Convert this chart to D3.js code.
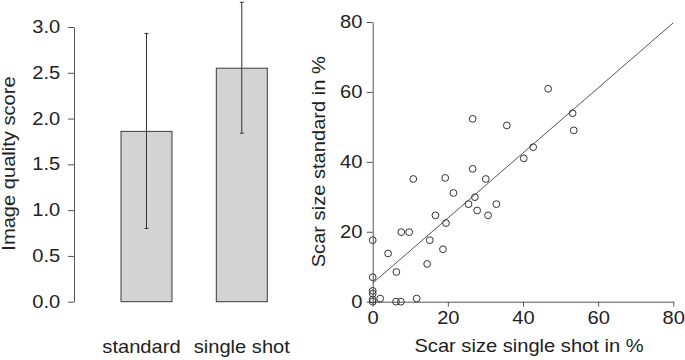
<!DOCTYPE html>
<html>
<head>
<meta charset="utf-8">
<script src="https://cdn.jsdelivr.net/npm/d3@7"></script>
<style>
  body { margin: 0; background: #fff; }
  svg text { font-family: "Liberation Sans", Arial, sans-serif; fill: #222; }
  .axis path, .axis line { stroke: #555; }
</style>
</head>
<body>
<div id="chart"></div>
<script>
// bar chart data
const groups = ["standard", "single shot"];
const meanScore = [1.86, 2.55];
const errLow = [0.80, 1.84];
const errHigh = [2.93, 3.27];
const scoreTicks = [0, 0.5, 1.0, 1.5, 2.0, 2.5, 3.0];

// scatter data: scar size single shot (x) vs standard (y)
const scarSingle = [10.8, 19.3, 26.6, 26.6, 30.1, 35.7, 40.2, 42.7, 46.7, 53.2, 53.5,
    21.5, 27.2, 25.5, 32.9, 27.8, 30.7, 16.7, 19.5, 7.6, 9.7, 0, 15.2, 18.7, 4.1,
    14.5, 6.3, 0, 0, 0, 0, 0, 2.0, 6.2, 7.5, 11.7];
const scarStandard = [35.1, 35.4, 52.3, 38.0, 35.1, 50.4, 41.0, 44.2, 60.9, 53.9, 49.0,
    31.1, 29.9, 27.9, 27.9, 26.1, 24.7, 24.7, 22.5, 19.9, 19.9, 17.6, 17.6, 15.0, 13.8,
    10.8, 8.5, 7.0, 3.1, 2.3, 0.6, 0, 0.9, 0, 0, 0.9];
const scarTicks = [0, 20, 40, 60, 80];
// fitted line
const fitIntercept = 5.3;
const fitSlope = 0.931;

const W = 685, H = 360;
const fs = 17.5, stretch = "scale(1.15,1)";

const svg = d3.select("#chart").append("svg")
    .attr("width", W)
    .attr("height", H);

// ---------- left: bar chart ----------
const yBar = d3.scaleLinear().domain([0, 3]).range([301.7, 27]);
const xBar = d3.scaleBand().domain(groups).range([121, 267.3])
    .paddingInner(0.465).paddingOuter(0);

const barData = groups.map((g, i) => ({ g: g, v: meanScore[i], lo: errLow[i], hi: errHigh[i] }));

svg.selectAll("rect.bar")
    .data(barData)
    .enter()
    .append("rect")
    .attr("class", "bar")
    .attr("x", d => xBar(d.g))
    .attr("y", d => yBar(d.v))
    .attr("width", xBar.bandwidth())
    .attr("height", d => yBar(0) - yBar(d.v))
    .attr("fill", "#d3d3d3")
    .attr("stroke", "#3c3c3c")
    .attr("stroke-width", 1);

// error bars
const err = svg.selectAll("g.err")
    .data(barData)
    .enter()
    .append("g")
    .attr("class", "err")
    .attr("stroke", "#333")
    .attr("stroke-width", 1);

err.append("line")
    .attr("x1", d => xBar(d.g) + xBar.bandwidth() / 2)
    .attr("x2", d => xBar(d.g) + xBar.bandwidth() / 2)
    .attr("y1", d => yBar(d.lo))
    .attr("y2", d => yBar(d.hi));

err.append("line")
    .attr("x1", d => xBar(d.g) + xBar.bandwidth() / 2 - 2)
    .attr("x2", d => xBar(d.g) + xBar.bandwidth() / 2 + 2)
    .attr("y1", d => yBar(d.hi))
    .attr("y2", d => yBar(d.hi));

err.append("line")
    .attr("x1", d => xBar(d.g) + xBar.bandwidth() / 2 - 2)
    .attr("x2", d => xBar(d.g) + xBar.bandwidth() / 2 + 2)
    .attr("y1", d => yBar(d.lo))
    .attr("y2", d => yBar(d.lo));

// y axis
const yBarAxis = svg.append("g")
    .attr("class", "axis")
    .attr("transform", "translate(74,0)")
    .call(d3.axisLeft(yBar).tickValues(scoreTicks).tickFormat(d3.format(".1f"))
        .tickSize(6).tickSizeOuter(0).tickPadding(6));
yBarAxis.selectAll("text").attr("font-size", fs).attr("transform", stretch);

// group labels
svg.selectAll("text.grp")
    .data(groups)
    .enter()
    .append("text")
    .attr("class", "grp")
    .attr("text-anchor", "middle")
    .attr("font-size", fs)
    .attr("transform", d => "translate(" + (xBar(d) + xBar.bandwidth() / 2 - (d === "standard" ? 5 : 0)) + ",353) " + stretch)
    .text(d => d);

svg.append("text")
    .attr("text-anchor", "middle")
    .attr("font-size", fs)
    .attr("transform", "translate(15,163.5) rotate(-90) " + stretch)
    .text("Image quality score");

// ---------- right: scatter ----------
const xSc = d3.scaleLinear().domain([0, 80]).range([372.7, 673.3]);
const ySc = d3.scaleLinear().domain([0, 80]).range([301.7, 22]);

const xScAxis = svg.append("g")
    .attr("class", "axis")
    .attr("transform", "translate(0," + ySc(0) + ")")
    .call(d3.axisBottom(xSc).tickValues(scarTicks).tickSize(5).tickSizeOuter(0).tickPadding(5));
xScAxis.selectAll("text").attr("font-size", fs).attr("transform", stretch);

const yScAxis = svg.append("g")
    .attr("class", "axis")
    .attr("transform", "translate(" + xSc(0) + ",0)")
    .call(d3.axisLeft(ySc).tickValues(scarTicks).tickSize(6).tickSizeOuter(0).tickPadding(3));
yScAxis.selectAll("text").attr("font-size", fs).attr("transform", stretch);

svg.selectAll(".axis .domain").attr("stroke", "#555");

// fitted line
const fitLine = d3.line()
    .x(d => xSc(d))
    .y(d => ySc(fitIntercept + fitSlope * d));

svg.append("path")
    .datum([0, 80])
    .attr("d", fitLine)
    .attr("fill", "none")
    .attr("stroke", "#555")
    .attr("stroke-width", 1);

// points
svg.selectAll("circle.pt")
    .data(scarSingle.map((x, i) => ({ x: x, y: scarStandard[i] })))
    .enter()
    .append("circle")
    .attr("class", "pt")
    .attr("cx", d => xSc(d.x))
    .attr("cy", d => ySc(d.y))
    .attr("r", 3.4)
    .attr("fill", "none")
    .attr("stroke", "#333")
    .attr("stroke-width", 1);

svg.append("text")
    .attr("text-anchor", "middle")
    .attr("font-size", fs)
    .attr("transform", "translate(529,352) " + stretch)
    .text("Scar size single shot in %");

svg.append("text")
    .attr("text-anchor", "middle")
    .attr("font-size", fs)
    .attr("transform", "translate(325,161.7) rotate(-90) " + stretch)
    .text("Scar size standard in %");
</script>
</body>
</html>
